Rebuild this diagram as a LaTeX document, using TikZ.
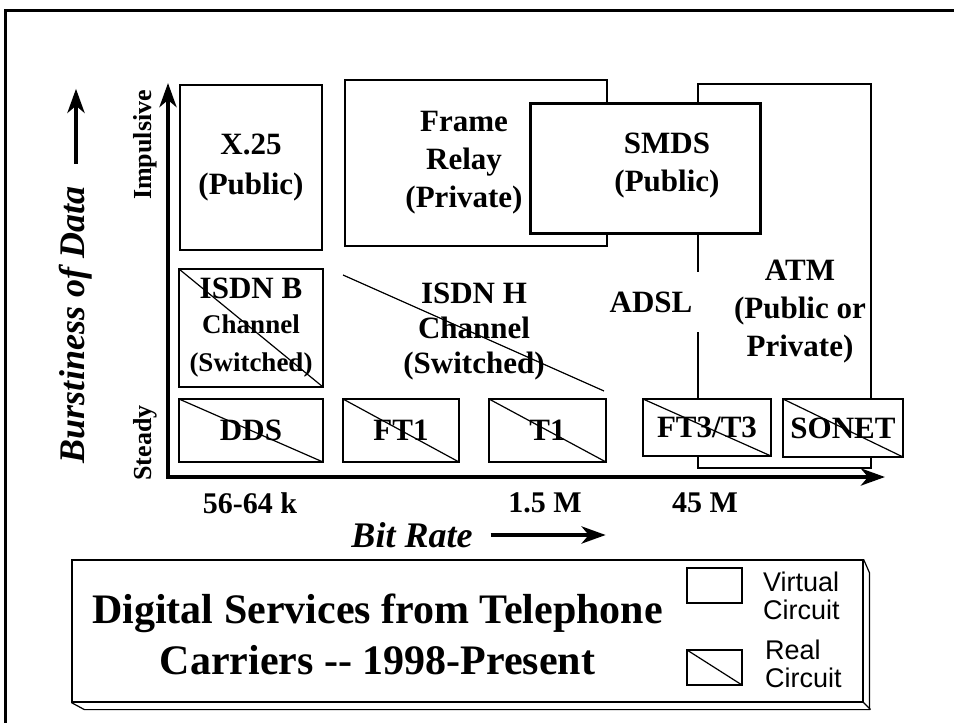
\documentclass[tikz,border=0pt]{standalone}
\usepackage{fontspec}
\setmainfont{Liberation Serif}
\setsansfont{Liberation Sans}
\usetikzlibrary{arrows.meta}

\begin{document}
\begin{tikzpicture}[x=1pt, y=-1pt,
    virtbox/.style={draw, line width=1.2pt, fill=white, inner sep=0pt},
    realbox/.style={virtbox, path picture={
        \draw[line width=1.2pt] (path picture bounding box.north west) -- (path picture bounding box.south east);}},
    boxtext/.style={font=\fontsize{31}{38}\selectfont\bfseries, align=center},
    sidetext/.style={font=\fontsize{26}{30}\selectfont\bfseries, rotate=90, inner sep=0pt},
    ratetext/.style={font=\fontsize{30}{36}\selectfont\bfseries},
    axisname/.style={font=\fontsize{36}{40}\selectfont\bfseries\itshape, inner sep=0pt},
    keytext/.style={font=\fontsize{27}{28}\selectfont\sffamily, align=left, anchor=west, inner sep=0pt},
    thickarrow/.style={line width=4.5pt, -{Stealth[length=24pt, width=17pt, inset=7pt]}}]
    \useasboundingbox (0,0) rectangle (954,723);
    % outer frame
    \draw[line width=3pt] (5,723) -- (5,10.5) -- (954,10.5);

    % axes
    \coordinate (origin) at (168,477);
    \coordinate (ytop) at (168,83);
    \coordinate (xend) at (885,477);
    \draw[line width=4.5pt, {Stealth[length=24pt, width=17pt, inset=7pt]}-{Stealth[length=24pt, width=17pt, inset=7pt]}]
      (ytop) -- (origin) -- (xend);
    \node[sidetext] (impulsive) at (145,145) {Impulsive};
    \node[sidetext] (steady) at (145,443) {Steady};
    \node[axisname, rotate=90] (burst) at (76,325) {Burstiness of Data};
    \draw[thickarrow] ([yshift=23pt]burst.east) -- ++(0,-75);
    \node[ratetext] (r56) at (250,503) {56-64 k};
    \node[ratetext] (r15) at (545,503) {1.5 M};
    \node[ratetext] (r45) at (705,503) {45 M};
    \node[axisname] (bitrate) at (412,535) {Bit Rate};
    \draw[thickarrow] ([xshift=18pt]bitrate.east) -- ++(115,0);

    % upper services
    \node[virtbox, boxtext, minimum width=142pt, minimum height=165pt] (x25) at (251,167.5)
      {X.25\\[2pt](Public)};
    \node[virtbox, minimum width=262pt, minimum height=166pt] (frame) at (476,163) {};
    \node[boxtext] (frametext) at (464,163) {Frame\\Relay\\(Private)};
    \node[virtbox, minimum width=173pt, minimum height=384pt] (atm) at (784.5,276) {};
    \node[boxtext] (atmtext) at (800,312) {ATM\\(Public or\\Private)};
    \node[virtbox, line width=3pt, minimum width=230pt, minimum height=130pt] (smds) at (645,168) {};
    \node[boxtext] (smdstext) at (667,166) {SMDS\\(Public)};
    \node[boxtext, fill=white, inner sep=0pt, minimum width=98pt, minimum height=60pt] (adsl) at (651,302) {ADSL};

    % switched channels
    \node[realbox, boxtext, minimum width=144pt, minimum height=118pt] (isdnb) at (251,328)
      {ISDN B\\[-3pt]\fontsize{27}{31}\selectfont Channel\\\fontsize{27}{31}\selectfont (Switched)};
    \coordinate (isdnhA) at (343,275);
    \coordinate (isdnhB) at (604,391);
    \draw[line width=1.2pt] (isdnhA) -- (isdnhB);
    \node[boxtext, font=\fontsize{31}{35}\selectfont\bfseries] (isdnh) at (474,332) {ISDN H\\Channel\\(Switched)};

    % leased lines
    \node[realbox, boxtext, minimum width=144pt, minimum height=63pt] (dds) at (251,430.5) {DDS};
    \node[realbox, boxtext, minimum width=116pt, minimum height=63pt] (ft1) at (401,430.5) {FT1};
    \node[realbox, boxtext, minimum width=117pt, minimum height=63pt] (t1) at (547.5,430.5) {T1};
    \node[realbox, boxtext, minimum width=128pt, minimum height=57pt] (ft3) at (707,427.5) {FT3/T3};
    \node[realbox, boxtext, minimum width=120pt, minimum height=58pt] (sonet) at (843,428) {SONET};

    % legend
    \node[draw, line width=1.2pt, minimum width=791pt, minimum height=142pt, inner sep=0pt] (legend) at (467.5,631) {};
    \draw[line width=1.2pt] (legend.south west) -- ++(13,7) -- ++(785,0) -- ++(0,-137) -- (legend.north east);
    \draw[line width=1.2pt] (legend.south east) -- ++(7,7);
    \node[font=\fontsize{42}{51}\selectfont\bfseries, align=center] (title) at (377.5,634)
      {Digital Services from Telephone\\Carriers -{}- 1998-Present};
    \node[virtbox, minimum width=55pt, minimum height=35pt] (keyvirt) at (714.5,585.5) {};
    \node[realbox, minimum width=55pt, minimum height=35pt] (keyreal) at (714.5,667.5) {};
    \node[keytext] (keyvirttext) at (763,595.5) {Virtual\\Circuit};
    \node[keytext] (keyrealtext) at (765,664) {Real\\Circuit};
\end{tikzpicture}
\end{document}
